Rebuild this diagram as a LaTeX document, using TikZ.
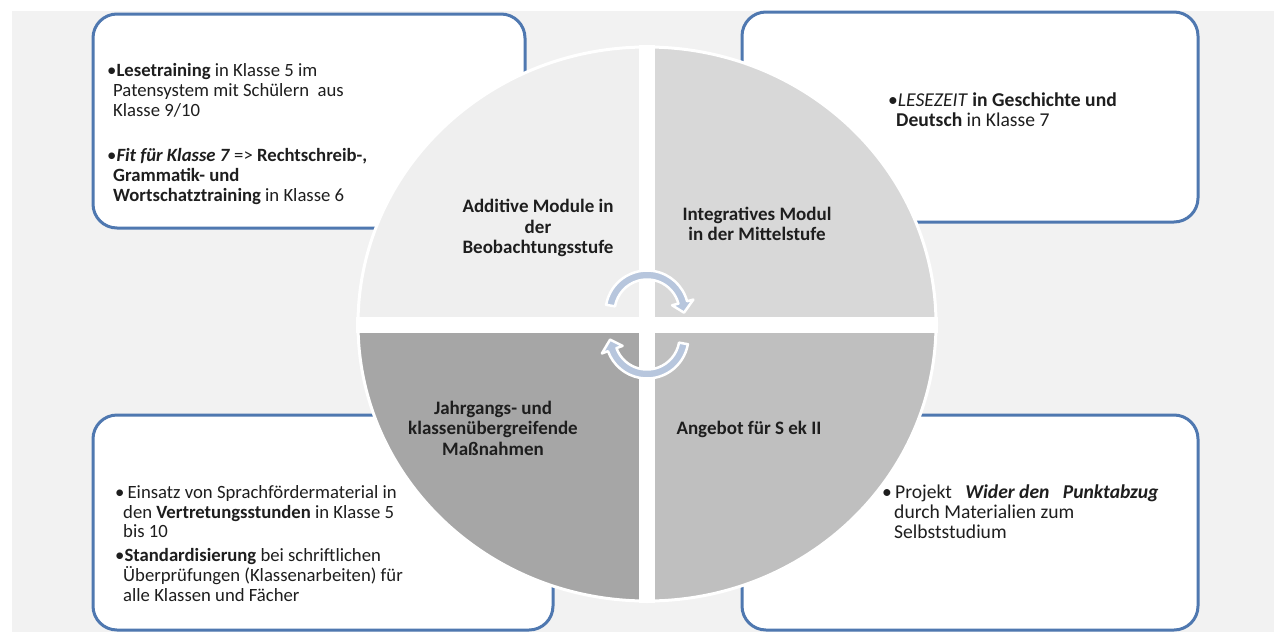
\documentclass[tikz,border=0pt]{standalone}
\usepackage{fontspec}
\setmainfont{Carlito}
\usetikzlibrary{calc}
\definecolor{bgc}{HTML}{F2F2F2}
\definecolor{boxblue}{HTML}{4F78B0}
\definecolor{qa}{HTML}{EFEFEF}
\definecolor{qb}{HTML}{D8D8D8}
\definecolor{qc}{HTML}{A6A6A6}
\definecolor{qd}{HTML}{BFBFBF}
\definecolor{arrblue}{HTML}{B7C6DD}
\definecolor{txt}{HTML}{1E1E1E}
\tikzset{
  bx/.style={draw=boxblue, line width=3, fill=white, rounded corners=24},
  bt/.style={anchor=base west, inner sep=0, font=\fontsize{18.7}{20}\selectfont, text=txt},
  btb/.style={bt, font=\fontsize{19.6}{20}\selectfont},
  ql/.style={align=center, inner sep=0, font=\fontsize{19}{20.5}\selectfont\bfseries, text=txt},
  arr/.style={fill=arrblue, draw=white, line width=2.5, line join=round}
}
\begin{document}
\begin{tikzpicture}[x=1pt,y=-1pt]
\useasboundingbox (0,0) rectangle (1274,632);
\fill[white] (0,0) rectangle (1274,632);
\fill[bgc] (12,11) rectangle (1274,632);
% boxes
\draw[bx] (93,14) rectangle (525,228);
\draw[bx] (742,12) rectangle (1198,222);
\draw[bx] (93,415) rectangle (553,630);
\draw[bx] (742,415) rectangle (1198,630);
% circle quadrants
\coordinate (C) at (647,324);
\fill[qa] (C) -- ++(-289,0) arc[start angle=180, end angle=270, x radius=289, y radius=277] -- cycle;
\fill[qb] (C) -- ++(0,-277) arc[start angle=270, end angle=360, x radius=289, y radius=277] -- cycle;
\fill[qd] (C) -- ++(289,0) arc[start angle=0, end angle=90, x radius=289, y radius=277] -- cycle;
\fill[qc] (C) -- ++(0,277) arc[start angle=90, end angle=180, x radius=289, y radius=277] -- cycle;
\begin{scope}
\clip (C) ellipse [x radius=291, y radius=279];
\fill[white] (639,0) rectangle (655,632);
\fill[white] (0,317) rectangle (1274,333);
\end{scope}
\draw[white, line width=3] (C) ellipse [x radius=289, y radius=277];
% cycle arrows
\coordinate (T) at (647,312);
\coordinate (B) at (647,337);
\path[arr] ($(T)+(190:41.5)$) arc[start angle=190, end angle=345, radius=41.5]
  -- ($(T)+(345:48)$) -- ($(T)+(361:37)$) -- ($(T)+(345:26)$) -- ($(T)+(345:32.5)$)
  arc[start angle=345, end angle=190, radius=32.5] -- cycle;
\path[arr] ($(B)+(10:41.5)$) arc[start angle=10, end angle=160, radius=41.5]
  -- ($(B)+(160:48)$) -- ($(B)+(176:37)$) -- ($(B)+(160:26)$) -- ($(B)+(160:32.5)$)
  arc[start angle=160, end angle=10, radius=32.5] -- cycle;
% quadrant labels
\node[ql] (qla) at (538,228) {Additive Module in\\der\\Beobachtungsstufe};
\node[ql] (qlb) at (757,224) {Integratives Modul\\in der Mittelstufe};
\node[ql] (qlc) at (493,428) {Jahrgangs- und\\klassenübergreifende\\Maßnahmen};
\node[ql] (qld) at (749,429) {Angebot für S ek II};
% top-left box text
\node[bt] (tl1) at (107,76) {•\textbf{Lesetraining} in Klasse 5 im};
\node[bt] (tl2) at (113,96) {Patensystem mit Schülern\ \ aus};
\node[bt] (tl3) at (113,116) {Klasse 9/10};
\node[bt] (tl4) at (107,161) {•\textbf{\textit{Fit für Klasse 7}} => \textbf{Rechtschreib-,}};
\node[bt] (tl5) at (113,181) {\textbf{Grammatik- und}};
\node[bt] (tl6) at (113,201) {\textbf{Wortschatztraining} in Klasse 6};
% top-right box text
\node[btb] (tr1) at (888,106) {•\textit{LESEZEIT} \textbf{in Geschichte und}};
\node[btb] (tr2) at (896,126) {\textbf{Deutsch} in Klasse 7};
% bottom-left box text
\node[bt] (bl1) at (115,498) {•\,Einsatz von Sprachfördermaterial in};
\node[bt] (bl2) at (123,518) {den \textbf{Vertretungsstunden} in Klasse 5};
\node[bt] (bl3) at (123,537) {bis 10};
\node[bt] (bl4) at (115,561) {•\textbf{Standardisierung} bei schriftlichen};
\node[bt] (bl5) at (123,581) {Überprüfungen (Klassenarbeiten) für};
\node[bt] (bl6) at (123,601) {alle Klassen und Fächer};
% bottom-right box text
\node[btb] (br1) at (882,498) {•\,Projekt\ \ \ \textbf{\textit{Wider den\ \ \ Punktabzug}}};
\node[btb] (br2) at (894,518) {durch Materialien zum};
\node[btb] (br3) at (894,538) {Selbststudium};
\end{tikzpicture}
\end{document}
